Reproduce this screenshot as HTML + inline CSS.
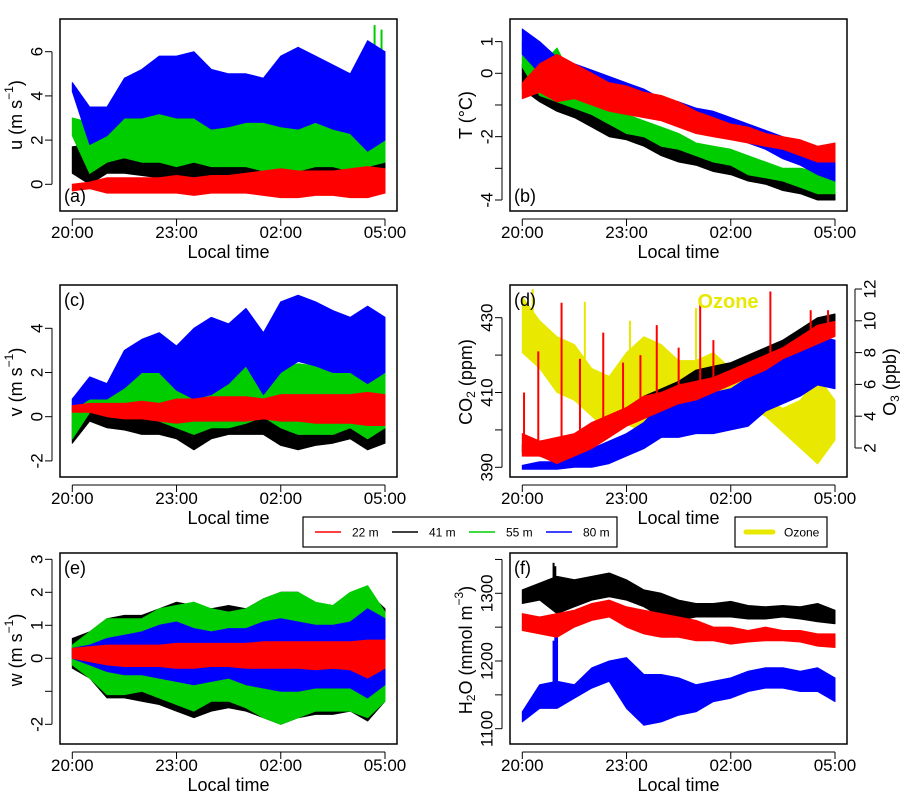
<!DOCTYPE html>
<html><head><meta charset="utf-8"><style>
html,body{margin:0;padding:0;background:#fff;}
svg{display:block;font-family:"Liberation Sans",sans-serif;}
</style></head><body>
<svg id="chart" width="900" height="800" viewBox="0 0 900 800" xmlns="http://www.w3.org/2000/svg"></svg>
<script>
// ---- data (hours after 20:00, half-hourly envelopes lo/hi) ----
const hours = [0,0.5,1,1.5,2,2.5,3,3.5,4,4.5,5,5.5,6,6.5,7,7.5,8,8.5,9];
const timeTicks = [0,3,6,9];
const timeTickLabels = ["20:00","23:00","02:00","05:00"];
const heights = ["22 m","41 m","55 m","80 m"];

// (a) u
const uRedLo=[-0.3,-0.2,-0.4,-0.4,-0.4,-0.4,-0.4,-0.5,-0.4,-0.4,-0.4,-0.5,-0.6,-0.6,-0.5,-0.5,-0.6,-0.6,-0.4];
const uRedHi=[0,0.1,0.3,0.3,0.3,0.3,0.4,0.3,0.4,0.4,0.5,0.6,0.7,0.6,0.6,0.6,0.7,0.8,0.7];
const uBlkLo=[0.5,0,0.5,0.5,0.4,0.3,0.3,0.3,0.3,0.2,0.2,0.2,0.2,0.2,0.2,0.1,0.2,0.2,0.3];
const uBlkHi=[1.7,1.8,1.6,1.5,1.6,1.8,1.8,1.6,1.8,1.6,1.8,1.9,1.7,1.6,1.5,1.5,1.4,1.6,1.0];
const uGrnLo=[2.2,0.5,1.0,1.2,1.0,1.0,0.8,1.0,0.8,0.8,0.8,0.6,0.6,0.6,0.8,0.8,0.6,0.8,1.0];
const uGrnHi=[3.0,2.8,3.2,3.5,4.0,3.5,3.8,3.6,3.5,3.6,3.7,3.6,3.5,3.4,3.2,3.2,3.4,4.8,3.5];
const uBluLo=[4.2,1.8,2.2,3.0,3.0,3.2,3.0,3.0,2.5,2.6,2.8,2.8,2.6,2.5,2.8,2.5,2.3,1.5,2.0];
const uBluHi=[4.6,3.5,3.5,4.8,5.2,5.8,5.8,6.0,5.2,5.0,5.0,4.8,5.8,6.2,5.8,5.4,5.0,6.5,6.0];
const uGrnSpikeT=[8.6,8.7,8.9];
const uGrnSpikeV=[6.3,7.2,7.0];
const uTicks=[0,2,4,6];
// (b) T
const tBlkLo=[-0.5,-0.9,-1.2,-1.4,-1.7,-2.0,-2.1,-2.3,-2.6,-2.8,-2.9,-3.1,-3.2,-3.4,-3.5,-3.7,-3.8,-4.0,-4.0];
const tBlkHi=[0.3,-0.4,-0.8,-0.9,-1.1,-1.4,-1.6,-1.8,-2.0,-2.3,-2.5,-2.7,-2.9,-3.0,-3.2,-3.3,-3.5,-3.6,-3.7];
const tGrnLo=[0.2,-0.7,-0.9,-1.1,-1.3,-1.6,-1.9,-2.0,-2.3,-2.4,-2.6,-2.8,-2.9,-3.2,-3.3,-3.4,-3.6,-3.8,-3.8];
const tGrnHi=[1.0,0.2,0.8,-0.3,-0.8,-1.0,-1.3,-1.5,-1.7,-1.9,-2.2,-2.3,-2.4,-2.6,-2.8,-3.0,-3.0,-3.1,-3.4];
const tBluLo=[0.6,0.0,-0.2,-0.3,-0.6,-0.8,-0.9,-1.1,-1.3,-1.5,-1.7,-1.9,-2.0,-2.2,-2.4,-2.7,-2.9,-3.2,-3.4];
const tBluHi=[1.4,1.0,0.5,0.3,0.1,-0.1,-0.3,-0.5,-0.8,-0.9,-1.1,-1.2,-1.4,-1.6,-1.8,-2.0,-2.2,-2.4,-2.6];
const tRedLo=[-0.8,-0.6,-0.9,-0.8,-1.0,-1.2,-1.3,-1.4,-1.5,-1.7,-1.9,-2.0,-2.1,-2.2,-2.3,-2.4,-2.6,-2.8,-2.8];
const tRedHi=[-0.3,0.3,0.6,0.3,0.0,-0.3,-0.4,-0.6,-0.7,-0.9,-1.2,-1.4,-1.6,-1.7,-1.9,-2.0,-2.1,-2.3,-2.2];
const tTicks=[1,0,-1,-2,-3,-4];
const tLabels=["1","0","","-2","","-4"];
// (c) v
const vRedLo=[0.2,0.2,0,-0.1,-0.1,-0.2,-0.3,-0.2,-0.2,-0.2,-0.2,-0.1,-0.2,-0.2,-0.3,-0.3,-0.3,-0.4,-0.4];
const vRedHi=[0.5,0.6,0.6,0.6,0.7,0.6,0.8,0.8,0.9,0.9,0.9,0.8,1.0,1.0,1.0,1.0,1.0,1.1,1.0];
const vBlkLo=[-1.2,-0.2,-0.5,-0.6,-0.8,-0.8,-1.0,-1.5,-1.0,-0.8,-0.8,-0.8,-1.3,-1.5,-1.3,-1.2,-1.0,-1.5,-1.2];
const vBlkHi=[0.3,0.8,1.0,1.2,1.5,1.2,1.0,1.2,1.5,1.5,1.5,1.3,1.5,1.5,1.3,1.3,1.5,1.5,1.3];
const vGrnLo=[-1.0,0.2,0.3,0,0,-0.2,-0.5,-0.8,-0.5,-0.5,-0.3,0,-0.5,-0.8,-0.8,-0.8,-0.5,-1.0,-0.5];
const vGrnHi=[0.8,1.7,1.5,2.7,2.5,2.5,1.2,1.5,2.0,2.8,3.0,3.2,2.2,2.4,2.3,2.5,2.8,1.5,2.0];
const vBluLo=[0.3,0.8,0.8,1.3,2.0,2.0,1.2,0.8,1.0,1.5,2.3,1.0,2.0,2.5,2.3,2.0,2.0,1.5,2.0];
const vBluHi=[0.8,1.8,1.5,3.0,3.5,3.8,3.2,4.0,4.5,4.2,4.9,3.8,5.2,5.5,5.2,4.8,4.5,5.0,4.5];
const vTicks=[-2,0,2,4];
// (d) CO2 and ozone
const o3Lo=[8,7,5.5,5,4,3,3.5,3,3,3.5,4,4,4.5,4.5,4,3,2,1,2.5];
const o3Hi=[11.5,10,9,8.5,7,6.5,8,9,8.5,7.5,7.5,8,7,6.5,5,4.5,5,6.5,5];
const o3SpikeT=[0.3,1.8,3.1,5.0];
const o3SpikeV=[12,11.2,10,10.8];
const cBlkLo=[394,393,392,394,396,399,402,405,407,409,411,413,414,416,418,420,423,425,427];
const cBlkHi=[396,397,396,398,400,403,406,409,411,413,416,417,418,420,422,424,427,430,431];
const cRedLo=[393,393,391,393,395,398,401,403,405,407,408,410,412,414,416,419,421,423,425];
const cRedHi=[399,397,398,399,402,404,406,409,410,412,413,414,416,418,420,422,425,428,429];
const cRedSpikeT=[0.05,0.46,1.13,1.66,2.33,2.9,3.4,3.87,4.5,5.12,5.5,7.14,8.3,8.8];
const cRedSpikeV=[410,421,434,419,426,418,420,428,422,435,424,437,432,432];
const cBluLo=[389.5,389.5,389.5,390,390,391,393,395,398,398,399,399,400,401,405,407,409,412,411];
const cBluHi=[390.5,391.5,391.5,393,395,397,399,402,407,407,409,410,411,414,417,420,422,425,424];
const co2Ticks=[390,400,410,420,430];
const co2Labels=["390","","410","","430"];
const o3Ticks=[2,4,6,8,10,12];
// (e) w
const wBlkLo=[-0.3,-0.6,-1.2,-1.2,-1.3,-1.4,-1.6,-1.8,-1.6,-1.5,-1.6,-1.8,-2.0,-1.8,-1.7,-1.7,-1.6,-1.9,-1.3];
const wBlkHi=[0.6,0.8,1.2,1.3,1.3,1.5,1.7,1.6,1.5,1.6,1.5,1.8,2.0,2.0,1.6,1.6,1.7,2.0,1.5];
const wGrnLo=[-0.2,-0.6,-1.1,-1.1,-1.0,-1.2,-1.4,-1.6,-1.3,-1.3,-1.5,-1.8,-2.0,-1.8,-1.6,-1.6,-1.6,-1.8,-1.3];
const wGrnHi=[0.4,0.8,1.2,1.2,1.2,1.5,1.6,1.7,1.5,1.4,1.5,1.8,2.0,2.0,1.7,1.6,2.0,2.2,1.4];
const wBluLo=[0,-0.2,-0.4,-0.5,-0.5,-0.6,-0.7,-0.8,-0.7,-0.6,-0.8,-0.9,-1.0,-1.0,-0.9,-0.9,-0.9,-1.2,-0.8];
const wBluHi=[0.3,0.4,0.6,0.7,0.8,1.0,1.1,0.9,0.8,0.9,0.9,1.1,1.2,1.1,1.0,1.0,1.1,1.5,1.2];
const wRedLo=[0,-0.1,-0.2,-0.25,-0.25,-0.25,-0.3,-0.3,-0.25,-0.25,-0.3,-0.3,-0.3,-0.3,-0.35,-0.3,-0.35,-0.6,-0.3];
const wRedHi=[0.3,0.35,0.4,0.4,0.4,0.4,0.45,0.45,0.45,0.45,0.45,0.5,0.5,0.5,0.5,0.5,0.5,0.55,0.55];
const wTicks=[-2,-1,0,1,2,3];
const wLabels=["-2","","0","1","2","3"];
// (f) H2O
const hBlkLo=[1285,1290,1270,1280,1290,1295,1290,1280,1265,1260,1265,1265,1265,1262,1262,1265,1262,1258,1255];
const hBlkHi=[1305,1315,1325,1320,1325,1330,1320,1305,1300,1290,1285,1285,1288,1282,1280,1282,1280,1285,1275];
const hRedLo=[1245,1240,1235,1250,1260,1265,1250,1240,1235,1235,1230,1230,1225,1228,1230,1230,1228,1222,1220];
const hRedHi=[1270,1265,1270,1275,1285,1290,1280,1275,1270,1265,1260,1250,1250,1245,1250,1245,1245,1240,1240];
const hBluLo=[1110,1130,1130,1145,1160,1170,1130,1105,1110,1120,1125,1140,1145,1155,1160,1160,1155,1155,1140];
const hBluHi=[1125,1165,1170,1165,1190,1200,1205,1180,1180,1175,1165,1170,1175,1185,1190,1190,1185,1190,1175];
const hBluSpikeT=[0.9,0.95,1.0];
const hBluSpikeV=[1230,1260,1240];
const hBlkSpikeT=[0.9,0.95];
const hBlkSpikeV=[1345,1340];
const h2oTicks=[1100,1150,1200,1250,1300,1350];
const h2oLabels=["1100","","1200","","1300",""];

// ---- rendering ----
const NS="http://www.w3.org/2000/svg";
const svg=document.getElementById('chart');
const RED="#ff0000",BLK="#000000",GRN="#00cd00",BLU="#0000ff",YEL="#e8e800";
function el(tag,attrs,parent){const e=document.createElementNS(NS,tag);for(const k in attrs)e.setAttribute(k,attrs[k]);(parent||svg).appendChild(e);return e;}
function lin(v1,p1,v2,p2){return v=>p1+(v-v1)*(p2-p1)/(v2-v1);}

let clipN=0;
function panel(o){
  const g=el('g',{});
  
  
  const xs=lin(0,o.x0+12.3,9,o.x1-12);
  const cid='clip'+(clipN++);
  const cp=el('clipPath',{id:cid},g);
  el('rect',{x:o.x0,y:o.top,width:o.x1-o.x0,height:o.bottom-o.top},cp);
  const plot=el('g',{'clip-path':'url(#'+cid+')'},g);
  o.series.forEach(s=>{
    const ys=s.scale;
    let pts=[];
    for(let i=0;i<hours.length;i++)pts.push(xs(hours[i]).toFixed(1)+','+ys(s.hi[i]).toFixed(1));
    for(let i=hours.length-1;i>=0;i--)pts.push(xs(hours[i]).toFixed(1)+','+ys(s.lo[i]).toFixed(1));
    const p=el('polygon',{points:pts.join(' '),fill:s.color,stroke:s.color,'stroke-width':1,'stroke-linejoin':'round'},plot);
    
    
    if(s.spikeT){
      s.spikeT.forEach((t,i)=>{
        let k=0;while(k<hours.length-2&&hours[k+1]<t)k++;
        const f=(t-hours[k])/(hours[k+1]-hours[k]);
        const mid=(s.lo[k]+s.hi[k])/2*(1-f)+(s.lo[k+1]+s.hi[k+1])/2*f;
        const sp=el('line',{x1:xs(t),x2:xs(t),y1:ys(mid),y2:ys(s.spikeV[i]),stroke:s.color,'stroke-width':2},plot);
        
        
      });
    }
  });
  const box=el('rect',{x:o.x0,y:o.top,width:o.x1-o.x0,height:o.bottom-o.top,fill:'none',stroke:'#000','stroke-width':1.5},g);
  
  
  const xa=el('g',{},g);
  
  
  el('line',{x1:xs(0),x2:xs(9),y1:o.bottom+8,y2:o.bottom+8,stroke:'#000','stroke-width':1},xa);
  timeTicks.forEach((t,i)=>{
    el('line',{x1:xs(t),x2:xs(t),y1:o.bottom+8,y2:o.bottom+15,stroke:'#000','stroke-width':1},xa);
    const tx=el('text',{x:xs(t),y:o.bottom+27,'font-size':17,'text-anchor':'middle'},xa);
    tx.textContent=timeTickLabels[i];
    
    
  });
  const xt=el('text',{x:(o.x0+o.x1)/2,y:o.bottom+47,'font-size':18,'text-anchor':'middle'},g);
  xt.textContent='Local time';
  
  
  function yaxis(ticks,labels,sc,side){
    const ya=el('g',{},g);
    
    
    const ax=side==='left'?o.x0-8:o.x1+8, dir=side==='left'?-1:1;
    el('line',{x1:ax,x2:ax,y1:sc(ticks[0]),y2:sc(ticks[ticks.length-1]),stroke:'#000','stroke-width':1},ya);
    ticks.forEach((t,i)=>{
      const y=sc(t);
      el('line',{x1:ax,x2:ax+dir*7,y1:y,y2:y,stroke:'#000','stroke-width':1},ya);
      if(labels[i]!==''){
        const lx=ax+dir*15;
        const tx=el('text',{x:lx,y:y,'font-size':17,'text-anchor':'middle','dominant-baseline':'central',transform:'rotate(-90 '+lx+' '+y+')'},ya);
        tx.textContent=labels[i];
        
        
      }
    });
  }
  yaxis(o.ticks,o.labels,o.scale,'left');
  if(o.rticks)yaxis(o.rticks,o.rticks.map(String),o.rscale,'right');
  const tl=el('text',{x:o.x0+4,y:o.labelY,'font-size':18},g);
  tl.textContent=o.tag;
  
  
  return g;
}
function ytitle(x,y,html,name){
  const t=el('text',{x:x,y:y,'font-size':18,'text-anchor':'middle','dominant-baseline':'central',transform:'rotate(-90 '+x+' '+y+')'});
  t.innerHTML=html;
  
  
}
const sup='<tspan dy="-7" font-size="12">';
const sub='<tspan dy="5" font-size="12">';

const sa=lin(0,184.3,6,51.7);
panel({name:'panel-a-u',x0:60,x1:397,top:19,bottom:211,scale:sa,ticks:uTicks,labels:uTicks.map(String),tag:'(a)',labelY:202,
  series:[{name:'u-41m',color:BLK,lo:uBlkLo,hi:uBlkHi,scale:sa},{name:'u-55m',color:GRN,lo:uGrnLo,hi:uGrnHi,scale:sa,spikeT:uGrnSpikeT,spikeV:uGrnSpikeV},{name:'u-80m',color:BLU,lo:uBluLo,hi:uBluHi,scale:sa},{name:'u-22m',color:RED,lo:uRedLo,hi:uRedHi,scale:sa}]});
ytitle(16,115,'u (m s'+sup+'−1</tspan><tspan dy="7">)</tspan>','y-axis-title-u');

const sb=lin(0,73.3,-4,200);
panel({name:'panel-b-temperature',x0:510,x1:847,top:19,bottom:211,scale:sb,ticks:tTicks,labels:tLabels,tag:'(b)',labelY:202,
  series:[{name:'t-41m',color:BLK,lo:tBlkLo,hi:tBlkHi,scale:sb},{name:'t-55m',color:GRN,lo:tGrnLo,hi:tGrnHi,scale:sb},{name:'t-80m',color:BLU,lo:tBluLo,hi:tBluHi,scale:sb},{name:'t-22m',color:RED,lo:tRedLo,hi:tRedHi,scale:sb}]});
ytitle(466,115,'T (°C)','y-axis-title-t');

const sc=lin(0,416.7,4,328.3);
panel({name:'panel-c-v',x0:60,x1:397,top:285,bottom:477,scale:sc,ticks:vTicks,labels:vTicks.map(String),tag:'(c)',labelY:306,
  series:[{name:'v-41m',color:BLK,lo:vBlkLo,hi:vBlkHi,scale:sc},{name:'v-55m',color:GRN,lo:vGrnLo,hi:vGrnHi,scale:sc},{name:'v-80m',color:BLU,lo:vBluLo,hi:vBluHi,scale:sc},{name:'v-22m',color:RED,lo:vRedLo,hi:vRedHi,scale:sc}]});
ytitle(16,382,'v (m s'+sup+'−1</tspan><tspan dy="7">)</tspan>','y-axis-title-v');

const sd=lin(390,467.3,430,317.7);
const so=lin(2,448,12,289);
panel({name:'panel-d-co2-ozone',x0:510,x1:847,top:285,bottom:477,scale:sd,ticks:co2Ticks,labels:co2Labels,rticks:o3Ticks,rscale:so,tag:'(d)',labelY:306,
  series:[{name:'ozone',color:YEL,lo:o3Lo,hi:o3Hi,scale:so,spikeT:o3SpikeT,spikeV:o3SpikeV},{name:'co2-41m',color:BLK,lo:cBlkLo,hi:cBlkHi,scale:sd},{name:'co2-80m',color:BLU,lo:cBluLo,hi:cBluHi,scale:sd},{name:'co2-22m',color:RED,lo:cRedLo,hi:cRedHi,scale:sd,spikeT:cRedSpikeT,spikeV:cRedSpikeV}]});
ytitle(466,382,'CO'+sub+'2</tspan><tspan dy="-5"> (ppm)</tspan>','y-axis-title-co2');
ytitle(890,382,'O'+sub+'3</tspan><tspan dy="-5"> (ppb)</tspan>','y-axis-title-o3');
const oz=el('text',{x:728,y:308,'font-size':20,'font-weight':'bold',fill:YEL,'text-anchor':'middle'});
oz.textContent='Ozone';



const se=lin(0,658.3,3,559.3);
panel({name:'panel-e-w',x0:60,x1:397,top:553,bottom:744,scale:se,ticks:wTicks,labels:wLabels,tag:'(e)',labelY:574,
  series:[{name:'w-41m',color:BLK,lo:wBlkLo,hi:wBlkHi,scale:se},{name:'w-55m',color:GRN,lo:wGrnLo,hi:wGrnHi,scale:se},{name:'w-80m',color:BLU,lo:wBluLo,hi:wBluHi,scale:se},{name:'w-22m',color:RED,lo:wRedLo,hi:wRedHi,scale:se}]});
ytitle(16,650,'w (m s'+sup+'−1</tspan><tspan dy="7">)</tspan>','y-axis-title-w');

const sf=lin(1100,728.7,1300,593.3);
panel({name:'panel-f-h2o',x0:510,x1:847,top:553,bottom:744,scale:sf,ticks:h2oTicks,labels:h2oLabels,tag:'(f)',labelY:574,
  series:[{name:'h2o-41m',color:BLK,lo:hBlkLo,hi:hBlkHi,scale:sf,spikeT:hBlkSpikeT,spikeV:hBlkSpikeV},{name:'h2o-80m',color:BLU,lo:hBluLo,hi:hBluHi,scale:sf,spikeT:hBluSpikeT,spikeV:hBluSpikeV},{name:'h2o-22m',color:RED,lo:hRedLo,hi:hRedHi,scale:sf}]});
ytitle(466,650,'H'+sub+'2</tspan><tspan dy="-5">O (mmol m</tspan>'+sup+'−3</tspan><tspan dy="7">)</tspan>','y-axis-title-h2o');

const lg=el('g',{});


el('rect',{x:303,y:517,width:314,height:30,fill:'#fff',stroke:'#000','stroke-width':1.2},lg);
const legColors=[RED,BLK,GRN,BLU];
heights.forEach((h,i)=>{
  const x=315+i*77;
  const ln=el('line',{x1:x,x2:x+26,y1:532,y2:532,stroke:legColors[i],'stroke-width':1.5},lg);
  
  
  const t=el('text',{x:x+37,y:536.5,'font-size':12},lg);
  t.textContent=h;
  
  
});
const og=el('g',{});


el('rect',{x:735,y:517,width:92,height:30,fill:'#fff',stroke:'#000','stroke-width':1.2},og);
el('line',{x1:746,x2:773,y1:532,y2:532,stroke:YEL,'stroke-width':5,'stroke-linecap':'round'},og);
const ot=el('text',{x:784,y:536.5,'font-size':12},og);
ot.textContent='Ozone';


</script>
</body></html>
